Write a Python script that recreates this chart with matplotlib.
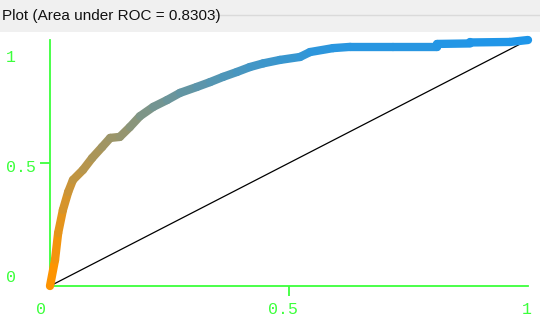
import matplotlib
matplotlib.use('Agg')
import matplotlib.pyplot as plt
import numpy as np
from matplotlib.collections import LineCollection
from matplotlib.patches import Rectangle
from matplotlib.lines import Line2D
import matplotlib.transforms as mtransforms

# ---- data ----
title = "Plot (Area under ROC = 0.8303)"
fpr = [0.0, 0.0105, 0.017, 0.027, 0.038, 0.048, 0.069, 0.088, 0.109, 0.126,
       0.146, 0.167, 0.188, 0.216, 0.245, 0.272, 0.307, 0.335, 0.362, 0.391,
       0.418, 0.446, 0.481, 0.523, 0.544, 0.592, 0.628, 0.718, 0.81, 0.81,
       0.879, 0.879, 0.962, 1.0]
tpr = [0.0, 0.106, 0.215, 0.309, 0.382, 0.431, 0.472, 0.520, 0.565, 0.602,
       0.606, 0.646, 0.690, 0.728, 0.756, 0.785, 0.809, 0.829, 0.850, 0.870,
       0.890, 0.905, 0.919, 0.931, 0.951, 0.967, 0.972, 0.972, 0.972, 0.984,
       0.986, 0.990, 0.992, 1.0]
tick_values = [0, 0.5, 1]
tick_labels = ['0', '0.5', '1']

GREEN = '#3cff3c'
ORANGE = np.array([255, 148, 0]) / 255
BLUE = np.array([30, 150, 235]) / 255

W, H = 540, 321
fig = plt.figure(figsize=(W / 100, H / 100), dpi=100)
fig.patch.set_facecolor('white')

# title bar
fig.patches.append(Rectangle((0, 1 - 32 / H), 1, 32 / H, transform=fig.transFigure,
                             facecolor='#f0f0f0', edgecolor='none', zorder=0))
fig.text(2 / W, 1 - 16 / H, title, fontsize=11, family='Liberation Sans',
         va='center', ha='left', color='#111111')
fig.lines.append(Line2D([214 / W, 1], [1 - 15 / H] * 2, transform=fig.transFigure,
                        color='#dadada', lw=1))

ax = fig.add_axes([50 / W, 35 / H, 478 / W, 246 / H])
ax.set_xlim(0, 1)
ax.set_ylim(0, 1)
ax.patch.set_alpha(0)
for s in ['top', 'right']:
    ax.spines[s].set_visible(False)
for s in ['left', 'bottom']:
    ax.spines[s].set_color(GREEN)
    ax.spines[s].set_linewidth(1.3)
ax.set_xticks([0.5])
ax.set_yticks([0.5])
ax.tick_params(length=7, width=1.3, color=GREEN, direction='out',
               labelbottom=False, labelleft=False)

# diagonal
ax.plot([0, 1], [0, 1], color='black', lw=0.9, zorder=2)

# ROC curve with colour gradient
pts = np.column_stack([fpr, tpr])
segs = np.stack([pts[:-1], pts[1:]], axis=1)
mid = (np.array(tpr[:-1]) + np.array(tpr[1:])) / 2
t = np.clip(mid, 0, 1) ** 1.6
cols = [tuple(ORANGE * (1 - k) + BLUE * k) for k in t]
lc = LineCollection(segs, colors=cols, linewidths=6, capstyle='round',
                    joinstyle='round', zorder=3, clip_on=False)
ax.add_collection(lc)

# tick labels (Weka-style placement)
font = dict(family='Liberation Mono', fontsize=12, color=GREEN)
x_off = [-9, -6, -1]
for v, lab, dx in zip(tick_values, tick_labels, x_off):
    tr = mtransforms.offset_copy(ax.transData, fig=fig, x=dx, y=-23, units='dots')
    ax.text(v, 0, lab, transform=tr, ha='center', va='center', clip_on=False, **font)
y_off = [9, -4, -18]
for v, lab, dy in zip(tick_values, tick_labels, y_off):
    tr = mtransforms.offset_copy(ax.transData, fig=fig, x=-44, y=dy, units='dots')
    ax.text(0, v, lab, transform=tr, ha='left', va='center', clip_on=False, **font)

fig.savefig('out.png', dpi=100)
